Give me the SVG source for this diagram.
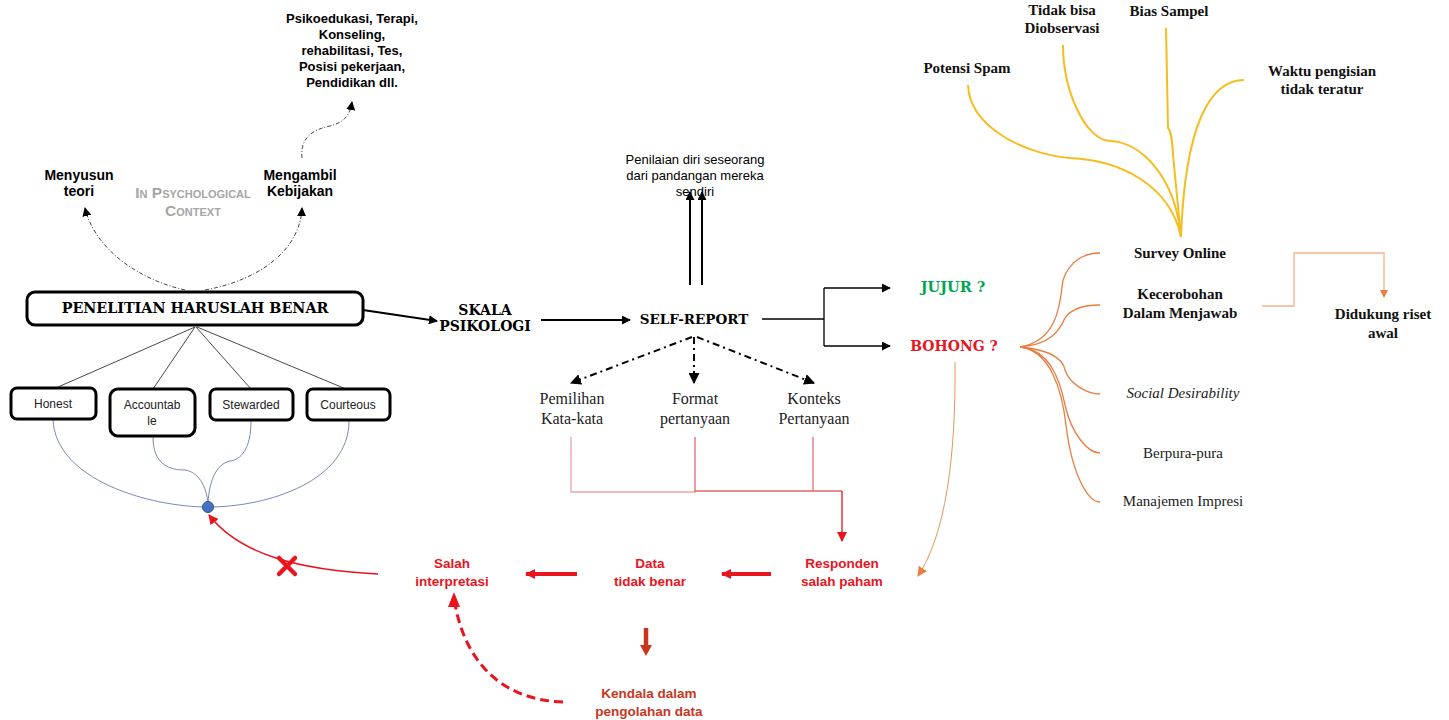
<svg xmlns="http://www.w3.org/2000/svg" width="1449" height="720" viewBox="0 0 1449 720">
<defs>
<style>
.sb{font-family:"Liberation Sans",Arial,sans-serif;font-weight:bold;font-size:13px;fill:#000;text-anchor:middle}
.sr{font-family:"Liberation Sans",Arial,sans-serif;font-size:12px;fill:#222;text-anchor:middle}
.bk{font-family:"DejaVu Serif",serif;font-weight:bold;font-size:13.5px;fill:#000;text-anchor:middle}
.tb{font-family:"Liberation Serif","Times New Roman",serif;font-weight:bold;font-size:15px;fill:#111;text-anchor:middle}
.tr{font-family:"Liberation Serif","Times New Roman",serif;font-size:15px;fill:#222;text-anchor:middle}
.rd{font-family:"Liberation Sans",Arial,sans-serif;font-weight:bold;font-size:13.5px;fill:#e8141e;text-anchor:middle}
.box{fill:#fff;stroke:#000;stroke-width:3}
.blu{fill:none;stroke:#7a88bb;stroke-width:1}
.yel{fill:none;stroke:#f5bd1f;stroke-width:2}
.org{fill:none;stroke:#e87d3e;stroke-width:1.3}
</style>
<marker id="ab" viewBox="0 0 10 10" refX="9" refY="5" markerWidth="9" markerHeight="9" markerUnits="userSpaceOnUse" orient="auto"><path d="M0,0L10,5L0,10z" fill="#000"/></marker>
<marker id="abL" viewBox="0 0 10 10" refX="9" refY="5" markerWidth="11" markerHeight="11" markerUnits="userSpaceOnUse" orient="auto"><path d="M0,0L10,5L0,10z" fill="#000"/></marker>
<marker id="ar" viewBox="0 0 10 10" refX="9" refY="5" markerWidth="10" markerHeight="10" markerUnits="userSpaceOnUse" orient="auto"><path d="M0,0L10,5L0,10z" fill="#e8141e"/></marker>
<marker id="ao" viewBox="0 0 10 10" refX="9" refY="5" markerWidth="10" markerHeight="10" markerUnits="userSpaceOnUse" orient="auto"><path d="M0,0L10,5L0,10z" fill="#e87d3e"/></marker>
</defs>
<rect width="1449" height="720" fill="#fff"/>

<g id="connectors">
  <path d="M185,290 C140,280 95,250 85,208" fill="none" stroke="#444" stroke-width="1" stroke-dasharray="4,2,1,2" marker-end="url(#ab)"/>
  <path d="M205,290 C260,280 300,250 302,208" fill="none" stroke="#444" stroke-width="1" stroke-dasharray="4,2,1,2" marker-end="url(#ab)"/>
  <path d="M302,158 C300,140 310,130 330,126 C345,122 350,115 352,102" fill="none" stroke="#444" stroke-width="1" stroke-dasharray="4,2,1,2" marker-end="url(#ab)"/>
  <line x1="363" y1="310" x2="437" y2="321" stroke="#000" stroke-width="2" marker-end="url(#ab)"/>
  <g stroke="#333" stroke-width="0.9">
    <line x1="195" y1="327" x2="58" y2="387"/>
    <line x1="195" y1="327" x2="153" y2="389"/>
    <line x1="196" y1="327" x2="251" y2="389"/>
    <line x1="197" y1="327" x2="346" y2="389"/>
  </g>
  <path class="blu" d="M53,419 C55,480 150,507 208,507"/>
  <path class="blu" d="M153,437 C153,465 170,470 185,470 C200,472 208,490 208,507"/>
  <path class="blu" d="M251,421 C251,450 240,460 230,461 C215,464 208,485 208,507"/>
  <path class="blu" d="M349,421 C349,480 270,507 208,507"/>
  <path d="M378,574 C300,570 240,555 209,515" fill="none" stroke="#e8141e" stroke-width="1.5" marker-end="url(#ar)"/>
  <line x1="541" y1="320" x2="630" y2="320" stroke="#000" stroke-width="2" marker-end="url(#ab)"/>
  <line x1="690" y1="285" x2="690" y2="192" stroke="#000" stroke-width="2" marker-end="url(#ab)"/>
  <line x1="702" y1="285" x2="702" y2="192" stroke="#000" stroke-width="2" marker-end="url(#ab)"/>
  <path d="M762,319 H824 M824,288 V346" fill="none" stroke="#000" stroke-width="1.3"/>
  <line x1="824" y1="288" x2="890" y2="288" stroke="#000" stroke-width="1.3" marker-end="url(#ab)"/>
  <line x1="824" y1="346" x2="890" y2="346" stroke="#000" stroke-width="1.3" marker-end="url(#ab)"/>
  <g stroke="#000" stroke-width="2" stroke-dasharray="7,4,2,4" fill="none">
    <line x1="692" y1="337" x2="571" y2="383" marker-end="url(#abL)"/>
    <line x1="694" y1="337" x2="694" y2="383" marker-end="url(#abL)"/>
    <line x1="697" y1="337" x2="814" y2="383" marker-end="url(#abL)"/>
  </g>
  <path d="M571,437 V492 H696" fill="none" stroke="#f0a3a8" stroke-width="1.3"/>
  <path d="M695,437 V491 H842" fill="none" stroke="#e4666e" stroke-width="1.3"/>
  <path d="M813,437 V491" fill="none" stroke="#e4666e" stroke-width="1.2"/>
  <line x1="842" y1="491" x2="842" y2="541" stroke="#e8141e" stroke-width="1.3" marker-end="url(#ar)"/>
  <line x1="771" y1="574" x2="722" y2="574" stroke="#e8141e" stroke-width="4" marker-end="url(#ar)"/>
  <line x1="577" y1="574" x2="526" y2="574" stroke="#e8141e" stroke-width="4" marker-end="url(#ar)"/>
  <path d="M646,628 V646" stroke="#c8361e" stroke-width="4.5"/>
  <path d="M640,645 L652,645 L646,656 z" fill="#c8361e"/>
  <path d="M563,702 C500,700 465,660 455,604" fill="none" stroke="#e8141e" stroke-width="3" stroke-dasharray="9,5"/>
  <path d="M448,607 L454,592 L460,607 z" fill="#e8141e"/>
  <path d="M955,362 C956,460 945,535 918,576" fill="none" stroke="#e8965a" stroke-width="1" marker-end="url(#ao)"/>
  <path class="org" d="M1020,347 C1060,340 1060,300 1063,280 C1070,260 1085,253 1100,253"/>
  <path class="org" d="M1020,347 C1050,345 1060,330 1065,318 C1072,308 1085,305 1100,305"/>
  <path class="org" d="M1020,347 C1050,350 1063,358 1065,370 C1070,385 1088,394 1100,394"/>
  <path class="org" d="M1020,347 C1050,350 1060,380 1065,405 C1072,435 1088,453 1100,453"/>
  <path class="org" d="M1020,347 C1050,350 1062,390 1066,425 C1072,475 1088,502 1100,502"/>
  <path d="M1262,306 H1294 V253 H1384 V290" fill="none" stroke="#f4b48a" stroke-width="1.3"/>
  <path d="M1380,290 L1388,290 L1384,298 z" fill="#e87d3e"/>
  <path class="yel" d="M968,85 C970,130 1030,155 1070,158 C1120,160 1170,185 1181,237"/>
  <path class="yel" d="M1063,45 C1063,90 1085,140 1110,141 C1140,142 1175,175 1181,237"/>
  <path class="yel" d="M1166,28 L1168,128 C1171,131 1172,138 1173,155 L1181,237"/>
  <path class="yel" d="M1244,80 C1210,80 1185,125 1181,237"/>
  <path d="M279,558 L295,574 M295,558 L279,574" stroke="#e8141e" stroke-width="4.5" stroke-linecap="round"/>
</g>

<g id="n-kebijakan-list">
  <text class="sb" x="352" y="23">Psikoedukasi, Terapi,</text>
  <text class="sb" x="352" y="39">Konseling,</text>
  <text class="sb" x="352" y="55">rehabilitasi, Tes,</text>
  <text class="sb" x="352" y="71">Posisi pekerjaan,</text>
  <text class="sb" x="352" y="87">Pendidikan dll.</text>
</g>
<g id="n-menyusun">
  <text class="sb" x="79" y="180" style="font-size:14px">Menyusun</text>
  <text class="sb" x="79" y="196" style="font-size:14px">teori</text>
</g>
<g id="n-mengambil">
  <text class="sb" x="300" y="180" style="font-size:14px">Mengambil</text>
  <text class="sb" x="300" y="196" style="font-size:14px">Kebijakan</text>
</g>
<g id="n-context" style="font-family:'Liberation Sans',Arial,sans-serif;font-weight:bold;font-size:15.5px;fill:#a6a6a6;text-anchor:middle;font-variant:small-caps">
  <text x="193" y="198">In Psychological</text>
  <text x="193" y="216">Context</text>
</g>
<g id="n-penelitian">
  <rect class="box" x="27" y="292" width="336" height="33" rx="8"/>
  <text class="bk" x="195" y="313" style="font-size:14.3px">PENELITIAN HARUSLAH BENAR</text>
</g>
<g id="n-honest">
  <rect class="box" x="11" y="388" width="85" height="31" rx="6"/>
  <text class="sr" x="53" y="408">Honest</text>
</g>
<g id="n-accountable">
  <rect class="box" x="110" y="389" width="85" height="47" rx="8"/>
  <text class="sr" x="152" y="409">Accountab</text>
  <text class="sr" x="152" y="425">le</text>
</g>
<g id="n-stewarded">
  <rect class="box" x="210" y="389" width="83" height="31" rx="6"/>
  <text class="sr" x="251" y="409">Stewarded</text>
</g>
<g id="n-courteous">
  <rect class="box" x="307" y="389" width="83" height="31" rx="6"/>
  <text class="sr" x="348" y="409">Courteous</text>
</g>
<g id="n-dot"><circle cx="208" cy="507" r="5.5" fill="#4472c4" stroke="#2f528f" stroke-width="1"/></g>
<g id="n-skala">
  <text class="bk" x="485" y="315" style="font-size:14px">SKALA</text>
  <text class="bk" x="485" y="331" style="font-size:14px">PSIKOLOGI</text>
</g>
<g id="n-selfreport"><text class="bk" x="694" y="324">SELF-REPORT</text></g>
<g id="n-penilaian">
  <text class="sr" x="695" y="164" style="font-size:13px;fill:#000">Penilaian diri seseorang</text>
  <text class="sr" x="695" y="180" style="font-size:13px;fill:#000">dari pandangan mereka</text>
  <text class="sr" x="695" y="196" style="font-size:13px;fill:#000">sendiri</text>
</g>
<g id="n-jujur"><text class="bk" x="953" y="292" style="fill:#00a651;font-size:14.5px">JUJUR ?</text></g>
<g id="n-bohong"><text class="bk" x="954" y="351" style="fill:#e8141e;font-size:14px">BOHONG ?</text></g>
<g id="n-pemilihan">
  <text class="tr" x="572" y="404" style="font-size:16px">Pemilihan</text>
  <text class="tr" x="572" y="424" style="font-size:16px">Kata-kata</text>
</g>
<g id="n-format">
  <text class="tr" x="695" y="404" style="font-size:16px">Format</text>
  <text class="tr" x="695" y="424" style="font-size:16px">pertanyaan</text>
</g>
<g id="n-konteks">
  <text class="tr" x="814" y="404" style="font-size:16px">Konteks</text>
  <text class="tr" x="814" y="424" style="font-size:16px">Pertanyaan</text>
</g>
<g id="n-responden">
  <text class="rd" x="842" y="568">Responden</text>
  <text class="rd" x="842" y="586">salah paham</text>
</g>
<g id="n-data">
  <text class="rd" x="650" y="568">Data</text>
  <text class="rd" x="650" y="586">tidak benar</text>
</g>
<g id="n-salah">
  <text class="rd" x="452" y="568">Salah</text>
  <text class="rd" x="452" y="586">interpretasi</text>
</g>
<g id="n-kendala">
  <text class="rd" x="649" y="698" style="fill:#c8361e">Kendala dalam</text>
  <text class="rd" x="649" y="716" style="fill:#c8361e">pengolahan data</text>
</g>
<g id="n-survey"><text class="tb" x="1180" y="258">Survey Online</text></g>
<g id="n-kecerobohan">
  <text class="tb" x="1180" y="299">Kecerobohan</text>
  <text class="tb" x="1180" y="318">Dalam Menjawab</text>
</g>
<g id="n-social"><text class="tr" x="1183" y="398" style="font-style:italic">Social Desirability</text></g>
<g id="n-berpura"><text class="tr" x="1183" y="458">Berpura-pura</text></g>
<g id="n-manajemen"><text class="tr" x="1183" y="506">Manajemen Impresi</text></g>
<g id="n-didukung">
  <text class="tb" x="1383" y="319">Didukung riset</text>
  <text class="tb" x="1383" y="338">awal</text>
</g>
<g id="n-potensi"><text class="tb" x="967" y="73">Potensi Spam</text></g>
<g id="n-tidakbisa">
  <text class="tb" x="1062" y="15">Tidak bisa</text>
  <text class="tb" x="1062" y="33">Diobservasi</text>
</g>
<g id="n-bias"><text class="tb" x="1169" y="16">Bias Sampel</text></g>
<g id="n-waktu">
  <text class="tb" x="1322" y="76">Waktu pengisian</text>
  <text class="tb" x="1322" y="94">tidak teratur</text>
</g>
</svg>
